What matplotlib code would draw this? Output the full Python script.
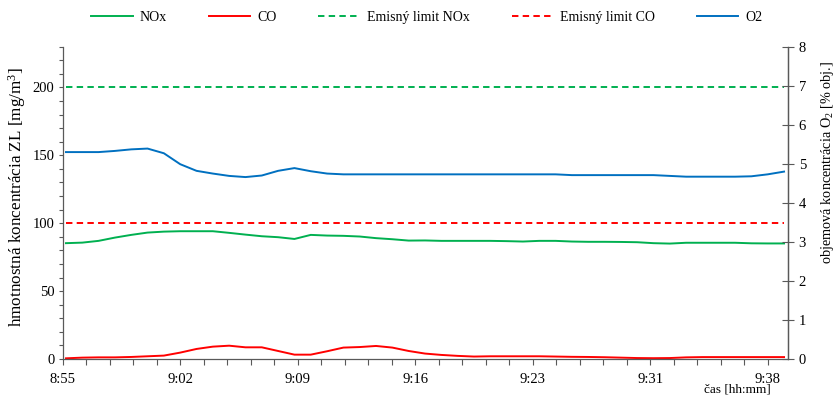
import numpy as np
import matplotlib
matplotlib.use("Agg")
import matplotlib.pyplot as plt
from matplotlib.ticker import MultipleLocator, FixedLocator

plt.rcParams['font.family'] = ['Liberation Serif', 'DejaVu Serif']
plt.rcParams['mathtext.fontset'] = 'custom'
plt.rcParams['mathtext.rm'] = 'Liberation Serif'
plt.rcParams['mathtext.it'] = 'Liberation Serif:italic'

# ---- data (minutes after 8:55, one sample per minute) ----
minutes = np.arange(45) + 0.2
nox = [85.3, 85.7, 87.0, 89.4, 91.4, 93.1, 93.8, 94.1, 94.1, 94.1,
       92.9, 91.6, 90.4, 89.7, 88.4, 91.4, 90.9, 90.7, 90.2, 89.0,
       88.2, 87.2, 87.3, 87.0, 87.0, 87.0, 87.0, 86.8, 86.5, 87.0,
       87.0, 86.5, 86.3, 86.3, 86.2, 86.0, 85.3, 85.0, 85.6, 85.6,
       85.6, 85.6, 85.2, 85.1, 85.1]
co = [0.5, 1.0, 1.2, 1.2, 1.5, 2.0, 2.5, 4.7, 7.4, 9.1,
      9.8, 8.6, 8.6, 5.9, 3.2, 3.2, 5.7, 8.4, 8.8, 9.6,
      8.4, 5.9, 4.0, 3.0, 2.3, 1.8, 2.0, 2.0, 2.0, 2.0,
      1.8, 1.6, 1.5, 1.3, 1.0, 0.7, 0.6, 0.7, 1.2, 1.4,
      1.4, 1.4, 1.4, 1.4, 1.4]
o2 = [5.30, 5.30, 5.30, 5.33, 5.37, 5.39, 5.27, 4.99, 4.82, 4.75,
      4.69, 4.66, 4.70, 4.82, 4.89, 4.81, 4.75, 4.73, 4.73, 4.73,
      4.73, 4.73, 4.73, 4.73, 4.73, 4.73, 4.73, 4.73, 4.73, 4.73,
      4.73, 4.71, 4.71, 4.71, 4.71, 4.71, 4.71, 4.69, 4.67, 4.67,
      4.67, 4.67, 4.68, 4.73, 4.80]
limit_nox = 200
limit_co = 100
tick_labels = ["8:55", "9:02", "9:09", "9:16", "9:23", "9:31", "9:38"]

GREEN = '#00B050'
RED = '#FF0000'
BLUE = '#0070C0'
AX = '#595959'
FS = 10.5

fig = plt.figure(figsize=(8.37, 3.98), dpi=100)
ax = fig.add_axes([0.0749, 0.098, 0.8669, 0.7847])
ax2 = ax.twinx()

lw = 1.4
l1, = ax.plot(minutes, nox, color=GREEN, lw=lw, label='NOx')
l2, = ax.plot(minutes, co, color=RED, lw=lw, label='CO')
l3, = ax.plot(minutes, [limit_nox] * len(minutes), color=GREEN, lw=lw,
              dashes=(3.3, 2.2), label='Emisný limit NOx')
l4, = ax.plot(minutes, [limit_co] * len(minutes), color=RED, lw=lw,
              dashes=(3.3, 2.2), label='Emisný limit CO')
l5, = ax2.plot(minutes, o2, color=BLUE, lw=lw, label='O2')

ax.set_xlim(0, 44.46)
ax.set_ylim(0, 230)
ax2.set_ylim(0, 8)

major_x = [7.2 * k for k in range(len(tick_labels))]
ax.set_xticks(major_x)
ax.set_xticklabels(tick_labels, fontsize=FS)
ax.xaxis.set_minor_locator(FixedLocator([1.44 * k for k in range(31)]))
ax.tick_params(axis='x', which='both', direction='out', length=4, width=0.8,
               color=AX, pad=6)

ax.yaxis.set_minor_locator(MultipleLocator(10))
ax.set_yticks([0, 50, 100, 150, 200])
ax.tick_params(axis='y', which='both', direction='out', length=3, width=0.8,
               color=AX, labelsize=FS, pad=3)

ax2.yaxis.set_major_locator(MultipleLocator(1))
ax2.tick_params(axis='y', which='major', direction='inout', length=9, width=0.8,
                color=AX, labelsize=FS, pad=3)

for a in (ax, ax2):
    a.spines['top'].set_visible(False)
    for s in ('left', 'right', 'bottom'):
        a.spines[s].set_color(AX)
        a.spines[s].set_linewidth(0.9)
ax2.spines['left'].set_visible(False)
ax2.spines['bottom'].set_visible(False)

ax.set_ylabel(r'hmotnostná koncentrácia ZL [mg/m$^{3}$]', fontsize=12.3)
ax.yaxis.set_label_coords(-0.0478, 0.517)
ax2.set_ylabel(r'objemová koncentrácia O$\mathregular{_2}$ [% obj.]', fontsize=10.3,
               rotation=90)
ax2.yaxis.set_label_coords(1.043, 0.628)

fig.text(737 / 837, 1 - 390 / 398, 'čas [hh:mm]', fontsize=FS - 1,
         ha='center', va='center')

fig.legend(handles=[l1, l2, l3, l4, l5], loc='center', ncol=5,
           bbox_to_anchor=(0.51, 0.957), frameon=False, fontsize=10,
           handlelength=3.0, handletextpad=0.5, columnspacing=3.0)

fig.savefig('out.png', dpi=100, facecolor='white')
